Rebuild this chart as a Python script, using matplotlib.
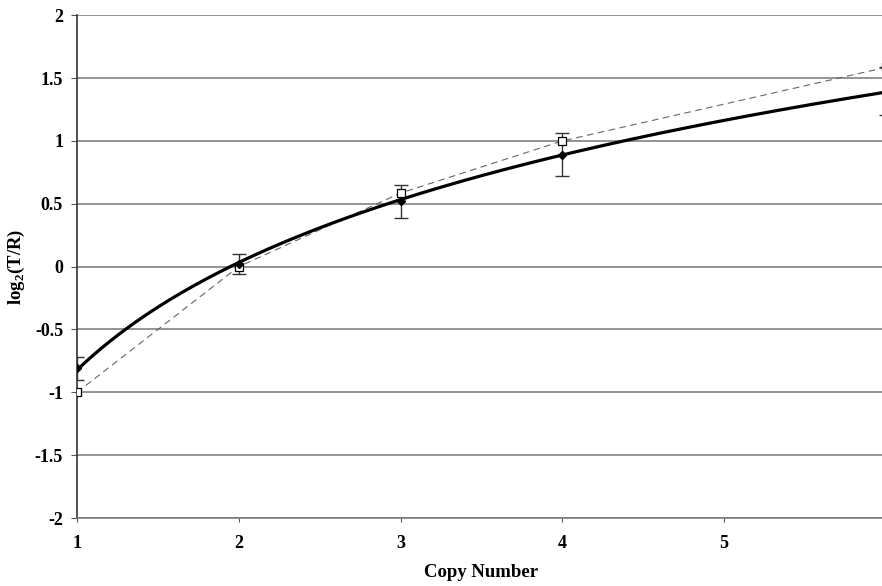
import numpy as np
import matplotlib
matplotlib.use('Agg')
import matplotlib.pyplot as plt

plt.rcParams['font.family'] = ['Liberation Serif', 'DejaVu Serif']
plt.rcParams['mathtext.fontset'] = 'custom'
plt.rcParams['mathtext.rm'] = 'Liberation Serif:bold'
plt.rcParams['mathtext.bf'] = 'Liberation Serif:bold'

# данные
copy_num = [1, 2, 3, 4, 6]
measured = [-0.81, 0.02, 0.52, 0.89, 1.40]
measured_err = [0.09, 0.08, 0.13, 0.17, 0.19]
expected = [-1.0, 0.0, 0.585, 1.0, 1.585]
y_ticks = [-2, -1.5, -1, -0.5, 0, 0.5, 1, 1.5, 2]
y_labels = ['-2', '-1.5', '-1', '-0.5', '0', '0.5', '1', '1.5', '2']

# логарифмический тренд по измеренным точкам
a, b = np.polyfit(np.log(copy_num), measured, 1)
xs = np.linspace(1, 6, 200)
trend = a * np.log(xs) + b

fig = plt.figure(figsize=(8.82, 5.86), dpi=100)
ax = fig.add_axes([0.0873, 0.116, 0.917, 0.858])

for t in y_ticks:
    ax.axhline(t, color='#777777', lw=1.1, zorder=1)

ax.plot(copy_num, expected, color='#666666', lw=0.8, ls=(0, (6, 4)), zorder=2)
ax.plot(xs, trend, color='black', lw=2.3, zorder=3)
ax.errorbar(copy_num, measured, yerr=measured_err, fmt='none', ecolor='#333333',
            elinewidth=1.0, capsize=5, capthick=1.0, zorder=4)
ax.plot(copy_num, expected, 's', ms=5.5, mfc='white', mec='black', mew=0.9, zorder=5)
ax.plot(copy_num, measured, 'D', ms=4.5, color='black', zorder=6)

ax.set_xlim(1, 6)
ax.set_ylim(-2, 2)
ax.set_xticks([1, 2, 3, 4, 5, 6])
ax.set_yticks(y_ticks)
ax.set_yticklabels(y_labels)
for lab in ax.get_xticklabels() + ax.get_yticklabels():
    lab.set_fontweight('bold')
    lab.set_fontsize(13)
ax.tick_params(axis='x', length=3, color='#555555', pad=9)
ax.tick_params(axis='y', length=4, color='#555555', pad=6)

for s in ['top', 'right']:
    ax.spines[s].set_visible(False)
ax.spines['left'].set_color('#333333')
ax.spines['left'].set_linewidth(1.2)
ax.spines['bottom'].set_color('#777777')
ax.spines['bottom'].set_linewidth(1.1)

ax.set_ylabel(r'log$_\mathbf{2}$(T/R)', fontsize=13.5, fontweight='bold', labelpad=6)
ax.set_xlabel('Copy Number', fontsize=13.5, fontweight='bold', labelpad=9)

plt.savefig('out.png', dpi=100)
